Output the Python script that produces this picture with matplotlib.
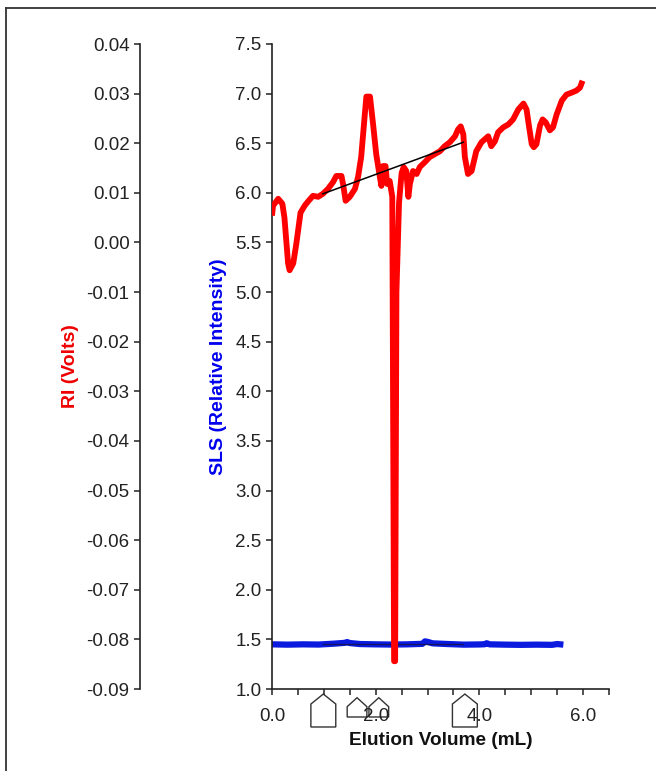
import matplotlib
matplotlib.use('Agg')
import matplotlib.pyplot as plt
import matplotlib.transforms as mtransforms
from matplotlib.lines import Line2D
from matplotlib.patches import Polygon

plt.rcParams['font.family'] = ['Liberation Sans', 'DejaVu Sans']

# RI detector trace (volts) vs elution volume (mL)
ri_volume = [0.00, 0.02, 0.12, 0.20, 0.24, 0.31, 0.34, 0.41, 0.47, 0.55,
             0.63, 0.69, 0.79, 0.89, 0.98, 1.08, 1.18, 1.24, 1.34, 1.37,
             1.42, 1.50, 1.60, 1.66, 1.72, 1.79, 1.82, 1.89, 1.95, 2.01,
             2.08, 2.11, 2.14, 2.19, 2.22, 2.27, 2.32, 2.355, 2.375, 2.40,
             2.45, 2.50, 2.54, 2.59, 2.63, 2.66, 2.72, 2.79, 2.85, 2.95,
             3.04, 3.14, 3.24, 3.33, 3.43, 3.53, 3.59, 3.64, 3.69, 3.72,
             3.78, 3.85, 3.94, 4.04, 4.17, 4.23, 4.30, 4.36, 4.46, 4.56,
             4.65, 4.75, 4.85, 4.91, 4.96, 5.01, 5.05, 5.10, 5.17, 5.22,
             5.28, 5.36, 5.42, 5.49, 5.59, 5.68, 5.78, 5.87, 5.94, 5.99]
ri_volts = [0.0054, 0.0074, 0.0088, 0.0078, 0.0050, -0.0042, -0.0056, -0.0042, -0.0002, 0.0060,
            0.0074, 0.0082, 0.0094, 0.0092, 0.0098, 0.0108, 0.0122, 0.0134, 0.0134, 0.0118,
            0.0084, 0.0092, 0.0108, 0.0132, 0.0172, 0.0258, 0.0294, 0.0294, 0.0238, 0.0178,
            0.0132, 0.0114, 0.0154, 0.0154, 0.0118, 0.0124, 0.0092, -0.0844, -0.0844, -0.0100,
            0.0080, 0.0140, 0.0152, 0.0144, 0.0092, 0.0118, 0.0144, 0.0138, 0.0152, 0.0162,
            0.0172, 0.0178, 0.0184, 0.0194, 0.0202, 0.0214, 0.0228, 0.0234, 0.0218, 0.0172,
            0.0138, 0.0144, 0.0184, 0.0202, 0.0214, 0.0194, 0.0204, 0.0222, 0.0232, 0.0238,
            0.0248, 0.0268, 0.0280, 0.0268, 0.0232, 0.0198, 0.0192, 0.0198, 0.0236, 0.0248,
            0.0242, 0.0226, 0.0232, 0.0258, 0.0286, 0.0298, 0.0302, 0.0306, 0.0312, 0.0326]

# SLS detector trace
sls_volume = [0.0, 0.3, 0.6, 0.9, 1.2, 1.4, 1.45, 1.5, 1.7, 2.0, 2.3, 2.6, 2.9, 2.95,
              3.0, 3.1, 3.4, 3.7, 4.0, 4.1, 4.14, 4.2, 4.5, 4.8, 5.1, 5.4, 5.5, 5.62]
sls_intensity = [1.450, 1.447, 1.450, 1.448, 1.457, 1.465, 1.473, 1.463, 1.453, 1.450,
                 1.448, 1.450, 1.455, 1.480, 1.475, 1.460, 1.453, 1.447, 1.449, 1.451,
                 1.461, 1.450, 1.447, 1.445, 1.447, 1.445, 1.453, 1.447]

# baselines between the integration limits
ri_base_volume = [0.98, 3.69]
ri_base_volts = [0.0098, 0.0202]
sls_base_volume = [0.98, 3.69]
sls_base_intensity = [1.452, 1.452]

# peak markers: volume and whether it's a tall (limit) marker
marker_volume = [0.99, 1.64, 2.06, 3.72]
marker_tall = [True, False, False, True]

fig = plt.figure(figsize=(6.56, 7.71), dpi=100)
ax = fig.add_axes([272 / 656, 1 - 689 / 771, 337 / 656, 645 / 771])
ax_ri = ax.twinx()

tick_color = '#222222'

ax.plot(sls_volume, sls_intensity, color='#0a1adf', lw=4.5, solid_capstyle='butt')
ax.plot(sls_base_volume, sls_base_intensity, color='#14145a', lw=0.9)

ax_ri.plot(ri_volume, ri_volts, color='#ff0000', lw=4.2, solid_joinstyle='round',
           solid_capstyle='butt')
ax_ri.plot(ri_base_volume, ri_base_volts, color='black', lw=1.1)

ax.set_xlim(0, 6.5)
ax.set_ylim(1.0, 7.5)
ax_ri.set_ylim(-0.09, 0.04)

ax.set_xticks([0.5 * i for i in range(14)])
ax.set_xticklabels(['%.1f' % (0.5 * i) if i % 4 == 0 else '' for i in range(14)])
ax.set_yticks([1.0 + 0.5 * i for i in range(14)])
ax.set_yticklabels(['%.1f' % (1.0 + 0.5 * i) for i in range(14)])
ax_ri.set_yticks([-0.09 + 0.01 * i for i in range(14)])
ax_ri.set_yticklabels(['%.2f' % (-0.09 + 0.01 * i) for i in range(14)])

for s in ['top', 'right']:
    ax.spines[s].set_visible(False)
for s in ['top', 'right', 'bottom']:
    ax_ri.spines[s].set_visible(False)
ax_ri.spines['left'].set_position(('axes', -132 / 337))
ax_ri.yaxis.set_ticks_position('left')
ax_ri.yaxis.set_label_position('left')

for a in (ax, ax_ri):
    for s in a.spines.values():
        s.set_linewidth(1.2)
        s.set_color(tick_color)
    a.tick_params(direction='out', length=4.5, width=1.1, color=tick_color,
                  labelsize=13.5, labelcolor=tick_color, pad=3)
ax.tick_params(axis='x', pad=9)

ax.set_xlabel('Elution Volume (mL)', fontsize=13.7, fontweight='bold', color='#111111')
ax.xaxis.set_label_coords(0.5, -0.066)
ax.xaxis.label.set_va('top')
ax.set_ylabel('SLS (Relative Intensity)', fontsize=14, fontweight='bold', color='#0000ee')
ax.yaxis.set_label_coords(-0.134, 0.5)
ax_ri.set_ylabel('RI (Volts)', fontsize=14, fontweight='bold', color='#ee0000')
ax_ri.yaxis.set_label_coords(-0.573, 0.5)

# peak limit markers below the x axis
trans = mtransforms.blended_transform_factory(ax.transData, ax.transAxes)
for v, tall in zip(marker_volume, marker_tall):
    if tall:
        hw, tip, sh, bot = 0.24, -0.0078, -0.0233, -0.0589
    else:
        hw, tip, sh, bot = 0.19, -0.0135, -0.0274, -0.0434
    house = Polygon([(v - hw, bot), (v - hw, sh), (v, tip), (v + hw, sh), (v + hw, bot)],
                    closed=True, fill=False, edgecolor='#333333', lw=1.0,
                    transform=trans, clip_on=False)
    ax.add_patch(house)

# frame around the figure
fig.add_artist(Line2D([6 / 656, 1.0], [1 - 8 / 771, 1 - 8 / 771], color='#333333', lw=1.3))
fig.add_artist(Line2D([6 / 656, 6 / 656], [0.0, 1 - 8 / 771], color='#333333', lw=1.3))

fig.savefig('out.png', dpi=100)
